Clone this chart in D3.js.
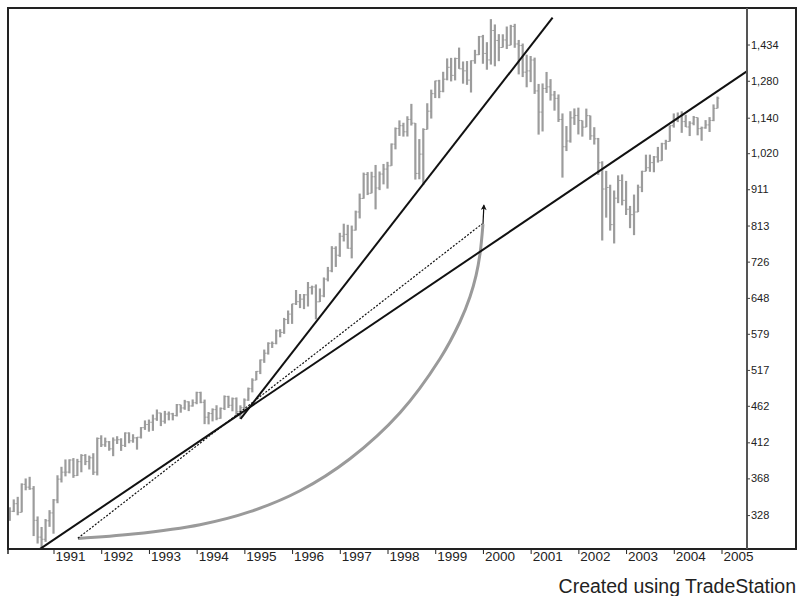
<!DOCTYPE html>
<html>
<head>
<meta charset="utf-8">
<script src="https://cdn.jsdelivr.net/npm/d3@7"></script>
<style>
    body { margin: 0; background: #fff; }
    svg { display: block; font-family: "Liberation Sans", Arial, Helvetica, sans-serif; }
    .ylab text { font-size: 11px; fill: #222; }
    .xlab text { font-size: 13.5px; fill: #222; }
</style>
</head>
<body>
<svg width="797" height="596"></svg>
<script>
// monthly bars, first bar = Feb 1990
const startYear = 1990;
const startMonth = 1;

const highs = [
    336.1, 344.5, 347.3, 362.3, 367.9, 369.8, 359.2, 326.6, 316.0, 324.0, 333.1,
    344.9, 371.6, 381.6, 390.5, 390.7, 392.2, 391.2, 397.0, 397.1, 395.2, 398.2, 418.3,
    421.2, 418.2, 413.7, 418.4, 420.0, 417.3, 425.1, 425.1, 422.6, 419.0, 432.2, 441.3,
    442.5, 449.5, 456.7, 452.0, 454.7, 453.8, 451.9, 464.6, 463.6, 470.7, 468.6, 471.3,
    482.9, 482.9, 471.1, 453.1, 458.3, 462.8, 459.6, 477.3, 476.8, 474.2, 474.3, 462.7,
    472.8, 489.2, 503.6, 515.3, 534.2, 551.1, 563.8, 565.2, 586.8, 587.5, 608.6, 622.9,
    636.2, 664.2, 656.0, 656.0, 681.1, 673.3, 675.9, 667.4, 690.9, 714.1, 762.1, 761.8,
    794.7, 817.7, 814.9, 812.9, 851.9, 898.7, 959.8, 961.3, 962.3, 983.1, 963.1, 986.2,
    992.7, 1051.7, 1105.7, 1130.5, 1122.1, 1145.2, 1190.6, 1121.0, 1066.1, 1102.8, 1192.9, 1244.9,
    1280.4, 1283.8, 1316.6, 1372.9, 1375.3, 1376.1, 1420.3, 1359.8, 1361.6, 1364.6, 1410.5, 1473.1,
    1478.0, 1444.6, 1552.9, 1527.2, 1481.5, 1480.8, 1517.3, 1525.2, 1530.1, 1454.8, 1438.5, 1389.1,
    1383.4, 1376.4, 1267.4, 1269.3, 1315.9, 1286.6, 1239.8, 1226.3, 1155.4, 1110.6, 1163.4, 1173.6,
    1176.6, 1130.2, 1173.0, 1147.8, 1106.6, 1070.0, 994.5, 965.0, 924.0, 907.4, 951.6, 954.3,
    935.1, 864.6, 895.9, 924.2, 965.4, 1015.3, 1015.4, 1011.0, 1040.3, 1053.8, 1063.7, 1112.6,
    1155.4, 1158.9, 1163.2, 1150.6, 1127.7, 1146.3, 1140.8, 1108.6, 1131.5, 1142.1, 1188.5, 1217.9
];

const lows = [
    322.1, 331.1, 327.8, 330.8, 354.5, 355.0, 307.1, 300.0, 294.5, 301.6, 316.1,
    309.4, 340.4, 363.3, 370.3, 373.8, 368.6, 370.8, 375.1, 383.6, 378.4, 372.0, 371.4,
    406.0, 406.2, 401.3, 394.5, 409.9, 401.1, 406.0, 410.8, 411.5, 402.7, 417.0, 428.4,
    426.0, 427.1, 440.7, 433.5, 436.9, 441.4, 441.4, 446.8, 452.1, 456.3, 454.4, 460.8,
    464.3, 465.7, 436.2, 435.9, 440.0, 441.6, 443.6, 455.9, 458.9, 454.1, 449.1, 443.3,
    457.6, 469.2, 481.9, 500.7, 510.3, 528.6, 542.5, 553.9, 560.2, 572.7, 578.9, 597.0,
    597.3, 633.7, 627.6, 625.6, 630.7, 654.9, 605.9, 639.7, 649.4, 682.4, 702.3, 714.0,
    737.0, 773.4, 756.1, 733.5, 800.5, 831.3, 884.4, 894.5, 899.5, 855.3, 908.5, 925.0,
    912.8, 980.3, 1032.3, 1076.7, 1074.4, 1074.7, 1112.4, 939.0, 939.9, 923.3, 1098.7, 1137.0,
    1212.4, 1211.9, 1234.6, 1281.7, 1277.4, 1281.4, 1328.7, 1268.4, 1263.7, 1233.7, 1350.2, 1387.4,
    1350.1, 1325.1, 1346.6, 1339.4, 1361.1, 1420.6, 1413.9, 1430.8, 1419.4, 1305.8, 1294.9, 1254.1,
    1274.6, 1228.3, 1081.2, 1091.9, 1232.0, 1203.0, 1165.5, 1124.9, 944.8, 1026.8, 1054.3, 1114.5,
    1081.7, 1074.4, 1106.7, 1063.5, 1048.0, 952.9, 775.7, 833.4, 800.2, 768.6, 872.1, 866.1,
    840.3, 806.3, 788.9, 847.9, 902.8, 963.6, 962.1, 960.8, 990.4, 996.0, 1031.2, 1058.2,
    1105.1, 1124.4, 1087.2, 1107.2, 1076.3, 1113.3, 1078.8, 1060.7, 1101.3, 1090.2, 1127.6, 1173.8
];

const closes = [
    331.9, 339.9, 330.8, 361.2, 358.0, 356.2, 322.6, 306.1, 304.0, 322.2, 330.2,
    343.9, 367.1, 375.2, 375.3, 389.8, 371.2, 387.8, 395.4, 387.9, 392.5, 375.2, 417.1,
    408.8, 412.7, 403.7, 415.0, 415.4, 408.1, 424.2, 414.0, 417.8, 418.7, 431.4, 435.7,
    438.8, 443.4, 451.7, 440.2, 450.2, 450.5, 448.1, 463.6, 458.9, 467.8, 461.8, 466.5,
    481.6, 467.1, 445.8, 450.9, 456.5, 444.3, 458.3, 475.5, 462.7, 472.4, 453.7, 459.3,
    470.4, 487.4, 500.7, 514.7, 533.4, 544.8, 562.1, 561.9, 584.4, 581.5, 605.4, 615.9,
    636.0, 640.4, 645.5, 654.2, 669.1, 670.6, 640.0, 652.0, 687.3, 705.3, 757.0, 740.7,
    786.2, 790.8, 757.1, 801.3, 848.3, 885.1, 954.3, 899.5, 947.3, 914.6, 955.4, 970.4,
    980.3, 1049.3, 1101.8, 1111.8, 1090.8, 1133.8, 1120.7, 957.3, 1017.0, 1098.7, 1163.6, 1229.2,
    1279.6, 1238.3, 1286.4, 1335.2, 1301.8, 1372.7, 1328.7, 1320.4, 1282.7, 1362.9, 1388.9, 1469.3,
    1394.5, 1366.4, 1498.6, 1452.4, 1420.6, 1454.6, 1430.8, 1517.7, 1436.5, 1429.4, 1315.0, 1320.3,
    1366.0, 1239.9, 1160.3, 1249.5, 1255.8, 1224.4, 1211.2, 1133.6, 1040.9, 1059.8, 1139.5, 1148.1,
    1130.2, 1106.7, 1147.4, 1076.9, 1067.1, 989.8, 911.6, 916.1, 815.3, 885.8, 936.3, 879.8,
    855.7, 841.2, 848.2, 916.9, 963.6, 974.5, 990.3, 1008.0, 996.0, 1050.7, 1058.2, 1111.9,
    1131.1, 1144.9, 1126.2, 1107.3, 1120.7, 1140.8, 1101.7, 1104.2, 1114.6, 1130.2, 1173.8, 1211.9
];
const firstOpen = 329.1;

const yearTicks = [1991, 1992, 1993, 1994, 1995, 1996, 1997, 1998, 1999, 2000, 2001, 2002, 2003, 2004, 2005];
const priceTicks = [328, 368, 412, 462, 517, 579, 648, 726, 813, 911, 1020, 1140, 1280, 1434];

// annotations as [year, price]
const steepLine = [[1994.92, 443.3], [2001.46, 1560]];
const longLine = [[1990.72, 295], [2005.53, 1318]];
const dottedLine = [[1991.51, 305], [1999.98, 817]];
const arcPoints = [
    [1991.513, 304.8], [1992.666, 309.0], [1994.070, 318.2], [1995.118, 331.5],
    [1996.166, 354.0], [1997.214, 391.4], [1998.262, 452.1], [1999.100, 535.5],
    [1999.519, 601.3], [1999.729, 650.4], [1999.855, 694.7], [1999.939, 744.3],
    [2000.001, 816.9]
];
const arrowLine = [[2000.001, 817], [2000.02, 866]];

const credit = "Created using TradeStation";

// build the bar table
const bars = highs.map((h, i) => ({
    t: startYear + (startMonth + i) / 12,
    high: h,
    low: lows[i],
    open: i == 0 ? firstOpen : closes[i - 1],
    close: closes[i]
}));

const plotLeft = 8, plotTop = 8, plotRight = 796, plotBottom = 549, axisX = 747;

const x = d3.scaleLinear()
            .domain([1990, 2005])
            .range([5.8, 721.5]);

const y = d3.scaleLog()
            .domain([294.9, 1608])
            .range([plotBottom, plotTop]);

const svg = d3.select("svg");

svg.append("rect")
    .attr("width", 797)
    .attr("height", 596)
    .attr("fill", "#fff");

svg.append("defs")
    .append("marker")
    .attr("id", "arrow")
    .attr("viewBox", "0 0 10 10")
    .attr("refX", 8)
    .attr("refY", 5)
    .attr("markerUnits", "userSpaceOnUse")
    .attr("markerWidth", 7)
    .attr("markerHeight", 6)
    .attr("orient", "auto")
    .append("path")
    .attr("d", "M0,0L10,5L0,10L3,5Z")
    .attr("fill", "#111");

// OHLC bars
const barG = svg.append("g").attr("stroke", "#9c9c9c");

barG.selectAll(".hl")
    .data(bars)
    .join("line")
    .attr("class", "hl")
    .attr("x1", d => x(d.t))
    .attr("x2", d => x(d.t))
    .attr("y1", d => y(d.high))
    .attr("y2", d => y(d.low))
    .attr("stroke-width", 2.2);

barG.selectAll(".op")
    .data(bars)
    .join("line")
    .attr("class", "op")
    .attr("x1", d => x(d.t) - 1.8)
    .attr("x2", d => x(d.t))
    .attr("y1", d => y(d.open))
    .attr("y2", d => y(d.open))
    .attr("stroke-width", 1);

barG.selectAll(".cl")
    .data(bars)
    .join("line")
    .attr("class", "cl")
    .attr("x1", d => x(d.t))
    .attr("x2", d => x(d.t) + 1.8)
    .attr("y1", d => y(d.close))
    .attr("y2", d => y(d.close))
    .attr("stroke-width", 1);

const line = d3.line()
                .x(d => x(d[0]))
                .y(d => y(d[1]));

// curved path
svg.append("path")
    .datum(arcPoints)
    .attr("d", line.curve(d3.curveCatmullRom.alpha(0.5)))
    .attr("fill", "none")
    .attr("stroke", "#9a9a9a")
    .attr("stroke-width", 3);

line.curve(d3.curveLinear);

svg.append("path")
    .datum(arrowLine)
    .attr("d", line)
    .attr("stroke", "#111")
    .attr("stroke-width", 1.2)
    .attr("marker-end", "url(#arrow)");

svg.append("path")
    .datum(dottedLine)
    .attr("d", line)
    .attr("stroke", "#111")
    .attr("stroke-width", 1.2)
    .attr("stroke-dasharray", "2,1.6");

svg.append("path")
    .datum(steepLine)
    .attr("d", line)
    .attr("stroke", "#111")
    .attr("stroke-width", 2);

svg.append("path")
    .datum(longLine)
    .attr("d", line)
    .attr("stroke", "#111")
    .attr("stroke-width", 2);

// frame
svg.append("rect")
    .attr("x", plotLeft)
    .attr("y", plotTop)
    .attr("width", plotRight - plotLeft)
    .attr("height", plotBottom - plotTop)
    .attr("fill", "none")
    .attr("stroke", "#222")
    .attr("stroke-width", 2);

svg.append("line")
    .attr("x1", plotLeft)
    .attr("x2", plotLeft)
    .attr("y1", plotBottom)
    .attr("y2", plotBottom + 5)
    .attr("stroke", "#222")
    .attr("stroke-width", 1.5);

// price axis on the right
const yAxis = svg.append("g")
    .attr("class", "ylab")
    .attr("transform", "translate(" + axisX + ",0)")
    .call(d3.axisRight(y)
            .tickValues(priceTicks)
            .tickFormat(d3.format(","))
            .tickSize(3)
            .tickPadding(1));

yAxis.select(".domain")
    .attr("d", "M0," + plotTop + "V" + plotBottom)
    .attr("stroke", "#555")
    .attr("stroke-width", 2);

yAxis.selectAll(".tick line").attr("stroke", "#444");

// year axis
const xAxis = svg.append("g")
    .attr("class", "xlab")
    .attr("transform", "translate(0," + plotBottom + ")")
    .call(d3.axisBottom(x)
            .tickValues(yearTicks)
            .tickFormat(d => d)
            .tickSize(5));

xAxis.select(".domain").remove();

xAxis.selectAll(".tick line").attr("stroke", "#222");

xAxis.selectAll(".tick text")
    .attr("text-anchor", "start")
    .attr("x", 1.5)
    .attr("y", 2)
    .attr("dy", "0.71em");

svg.append("text")
    .attr("x", plotRight)
    .attr("y", 593)
    .attr("text-anchor", "end")
    .attr("font-size", "19.5px")
    .attr("fill", "#222")
    .text(credit);
</script>
</body>
</html>
